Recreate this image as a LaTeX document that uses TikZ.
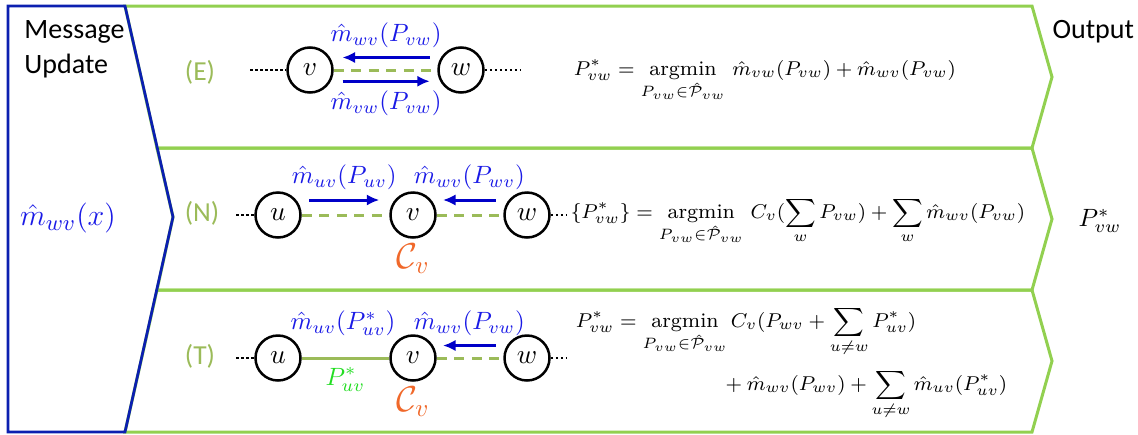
\documentclass[tikz,border=0pt]{standalone}
\usepackage{amsmath}
\usepackage{fontspec}
\newfontfamily\slidefont{Carlito}
\usetikzlibrary{arrows.meta,positioning}
\definecolor{rowgreen}{HTML}{92D050}
\definecolor{olive}{HTML}{9BBB59}
\definecolor{msgblue}{HTML}{0000C8}
\definecolor{labblue}{HTML}{1A1AE6}
\definecolor{boxblue}{HTML}{0B1FB0}
\definecolor{cvorange}{HTML}{F0682A}
\definecolor{pgreen}{HTML}{22DD22}

\begin{document}
\begin{tikzpicture}[x=0.4pt,y=-0.4pt]
   \tikzstyle{row}=[rowgreen,line width=1.2pt,line join=miter]
   \tikzstyle{nd}=[circle,draw,line width=1pt,minimum size=18pt,inner sep=0pt,font=\fontsize{11}{13}\selectfont]
   \tikzstyle{dots}=[line width=1pt,dash pattern=on 1pt off 1pt]
   \tikzstyle{edge}=[olive,line width=1.2pt,dash pattern=on 4pt off 3pt]
   \tikzstyle{ar}=[msgblue,line width=1.2pt,-{Latex[length=5pt,width=4.5pt]}]
   \tikzstyle{msg}=[text=labblue]
   \tikzstyle{tag}=[text=olive,font=\slidefont\fontsize{11}{13}\selectfont]
   \tikzstyle{cv}=[text=cvorange,font=\Large]
   \tikzstyle{head}=[inner sep=0pt,anchor=north west,align=left,font=\slidefont\fontsize{11.2}{14}\selectfont]
   \tikzstyle{eq}=[anchor=base west,font=\fontsize{8.3}{10}\selectfont]

   \useasboundingbox (0,0) rectangle (1138,434);

   % green rows
   \draw[row] (125,6) -- (1032,6) -- (1052,77) -- (1032,148) -- (157,148) -- cycle;
   \draw[row] (157,148) -- (1032,148) -- (1052,219) -- (1032,290) -- (157,290) -- (173,217) -- cycle;
   \draw[row] (157,290) -- (1032,290) -- (1052,361) -- (1032,432) -- (125,432) -- cycle;
   % blue message box
   \draw[boxblue,line width=1.1pt,line join=miter] (8,6) -- (125,6) -- (173,217) -- (125,432) -- (8,432) -- cycle;

   \node[head] (title) at (24,20) {Message\\Update};
   \node[head] (out) at (1052,20) {Output};
   \node[text=labblue,font=\fontsize{12.8}{15}\selectfont] (mx) at (68,218) {$\hat m_{wv}(x)$};
   \node (pout) at (1100,221) {$P^*_{vw}$};

   % (E)
   \node[tag] (tE) at (200,72) {(E)};
   \node[nd] (v1) at (310,70) {$v$};
   \node[nd] (w1) at (461,70) {$w$};
   \coordinate (e1l) at (250,70);
   \coordinate (e1r) at (520,70);
   \draw[dots] (e1l) -- (v1);
   \draw[dots] (w1) -- (e1r);
   \draw[edge] (v1) -- (w1);
   \draw[ar] ([shift={(-3pt,5pt)}]w1.west) -- node[msg,above] {$\hat m_{wv}(P_{vw})$} ([shift={(3.5pt,5pt)}]v1.east);
   \draw[ar] ([shift={(3.5pt,-4.5pt)}]v1.east) -- node[msg,below] {$\hat m_{vw}(P_{vw})$} ([shift={(-3pt,-4.5pt)}]w1.west);
   \node[eq] (f1) at (565,75) {$\displaystyle P^*_{vw} = \operatorname*{argmin}_{P_{vw}\in\hat{\mathcal{P}}_{vw}}\, \hat m_{vw}(P_{vw}) + \hat m_{wv}(P_{vw})$};

   % (N)
   \node[tag] (tN) at (202,213) {(N)};
   \node[nd] (u2) at (278,215) {$u$};
   \node[nd] (v2) at (413,215) {$v$};
   \node[nd] (w2) at (527,215) {$w$};
   \coordinate (e2l) at (236,215);
   \coordinate (e2r) at (567,215);
   \draw[dots] (e2l) -- (u2);
   \draw[dots] (w2) -- (e2r);
   \draw[edge] (u2) -- (v2);
   \draw[edge] (v2) -- (w2);
   \draw[ar] ([shift={(3pt,6pt)}]u2.east) -- node[msg,above] {$\hat m_{uv}(P_{uv})$} ([shift={(-4pt,6pt)}]v2.west);
   \draw[ar] ([shift={(-3pt,6pt)}]w2.west) -- node[msg,above] {$\hat m_{wv}(P_{wv})$} ([shift={(2.5pt,6pt)}]v2.east);
   \node[cv,below=-1.5pt of v2] (c2) {$\mathcal{C}_v$};
   \node[eq] (f2) at (562,218) {$\displaystyle \{P^*_{vw}\} = \operatorname*{argmin}_{P_{vw}\in\hat{\mathcal{P}}_{vw}}\, C_v(\sum_w P_{vw}) + \sum_w \hat m_{wv}(P_{vw})$};

   % (T)
   \node[tag] (tT) at (200,356) {(T)};
   \node[nd] (u3) at (278,358) {$u$};
   \node[nd] (v3) at (413,358) {$v$};
   \node[nd] (w3) at (527,358) {$w$};
   \coordinate (e3l) at (236,358);
   \coordinate (e3r) at (567,358);
   \draw[dots] (e3l) -- (u3);
   \draw[dots] (w3) -- (e3r);
   \draw[olive,line width=1.2pt] (u3) -- node[below,text=pgreen] {$P^*_{uv}$} (v3);
   \draw[edge] (v3) -- (w3);
   \draw[ar] ([shift={(-3pt,5pt)}]w3.west) -- node[msg,above] {$\hat m_{wv}(P_{vw})$} ([shift={(2.5pt,5pt)}]v3.east);
   \node[msg] (m3) at (343,323) {$\hat m_{uv}(P^*_{uv})$};
   \node[cv,below=-1.5pt of v3] (c3) {$\mathcal{C}_v$};
   \node[eq] (f3a) at (567,327) {$\displaystyle P^*_{vw} = \operatorname*{argmin}_{P_{vw}\in\hat{\mathcal{P}}_{vw}} C_v(P_{wv} + \sum_{u\neq w} P^*_{uv})$};
   \node[eq] (f3b) at (712,390) {$\displaystyle {}+ \hat m_{wv}(P_{wv}) + \sum_{u\neq w}\hat m_{uv}(P^*_{uv})$};
\end{tikzpicture}
\end{document}
